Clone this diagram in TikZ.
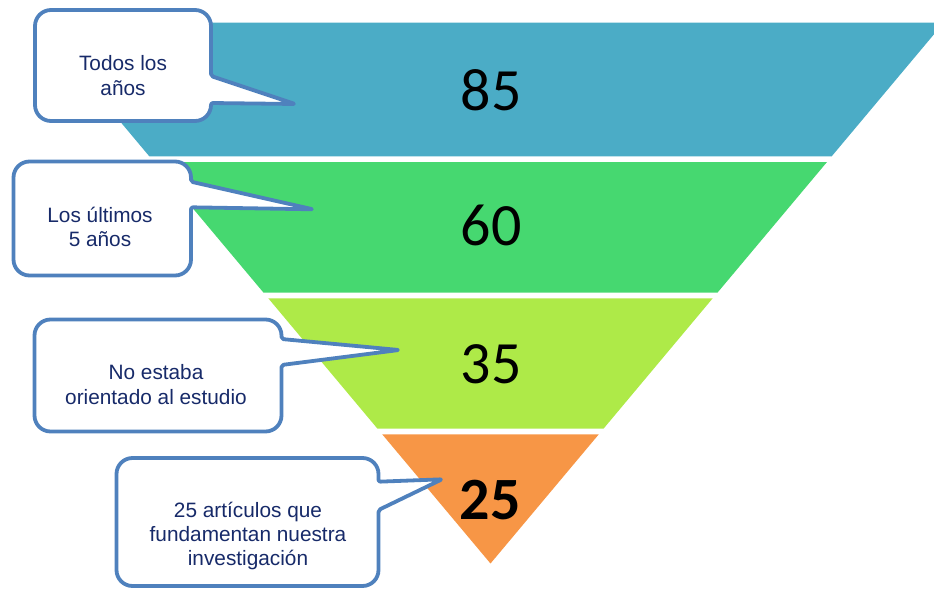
\documentclass[tikz,border=0pt]{standalone}
\usepackage{fontspec}
\setmainfont{Liberation Sans}
\newfontfamily\numfont{Carlito}
\definecolor{bandA}{RGB}{75,172,198}
\definecolor{bandB}{RGB}{70,216,112}
\definecolor{bandC}{RGB}{174,234,72}
\definecolor{bandD}{RGB}{247,150,70}
\definecolor{calloutline}{RGB}{79,129,189}
\definecolor{callouttext}{RGB}{23,42,105}
\tikzset{
  band/.style={draw=none},
  callout/.style={draw=calloutline, fill=white, line width=3.8pt, line join=round},
  calltext/.style={text=callouttext, font=\fontsize{20.8}{24.3}\selectfont, align=center, anchor=base, inner sep=0pt},
  numtext/.style={text=black, font=\numfont\fontsize{60}{60}\selectfont, anchor=base, inner sep=0pt}
}
\begin{document}
\begin{tikzpicture}[x=1pt,y=-1pt]
\useasboundingbox (0,0) rectangle (934,589);
\clip (0,0) rectangle (934,589);
% funnel bands
\fill[band,bandA] (37.3,22.7) -- (943.7,22.7) -- (831.7,156.3) -- (149.3,156.3) -- cycle;
\fill[band,bandB] (154,162) -- (827,162) -- (717.6,292.5) -- (263.4,292.5) -- cycle;
\fill[band,bandC] (268.3,298.3) -- (712.7,298.3) -- (603.5,428.7) -- (377.5,428.7) -- cycle;
\fill[band,bandD] (382.2,434.3) -- (598.8,434.3) -- (490.5,563.5) -- cycle;
% numbers
\node[numtext] (n85) at (491,110) {85};
\node[numtext] (n60) at (491,245.7) {60};
\node[numtext] (n35) at (491,383.3) {35};
\node[numtext, font=\numfont\bfseries\fontsize{60}{60}\selectfont] (n25) at (490,519.3) {25};
% callouts
\draw[callout, rounded corners=16pt] (123,10) -- (211,10) [rounded corners=2pt] -- (211,76) -- (295,104) -- (211,103) [rounded corners=16pt] -- (211,121) -- (35,121) -- (35,10) -- cycle;
\draw[callout, rounded corners=16pt] (100,161.5) -- (191,161.5) [rounded corners=2pt] -- (191,181.7) -- (313,209.3) -- (191,207.3) [rounded corners=16pt] -- (191,275.5) -- (13.5,275.5) -- (13.5,161.5) -- cycle;
\draw[callout, rounded corners=16pt] (158,319.5) -- (281.5,319.5) [rounded corners=2pt] -- (281.5,339) -- (399,350) -- (281.5,365) [rounded corners=16pt] -- (281.5,431.5) -- (34.5,431.5) -- (34.5,319.5) -- cycle;
\draw[callout, rounded corners=16pt] (247.5,458) -- (378.5,458) [rounded corners=2pt] -- (378.5,481.7) -- (442,479.3) -- (378.5,510) [rounded corners=16pt] -- (378.5,586) -- (116.5,586) -- (116.5,458) -- cycle;
% callout texts
\node[calltext] (t1) at (123,95) {Todos los\\años};
\node[calltext] (t2) at (100,246.7) {Los últimos\\5 años};
\node[calltext] (t3) at (156,404) {No estaba\\orientado al estudio};
\node[calltext] (t4) at (248,565.7) {25 artículos que\\fundamentan nuestra\\investigación};
\end{tikzpicture}
\end{document}
